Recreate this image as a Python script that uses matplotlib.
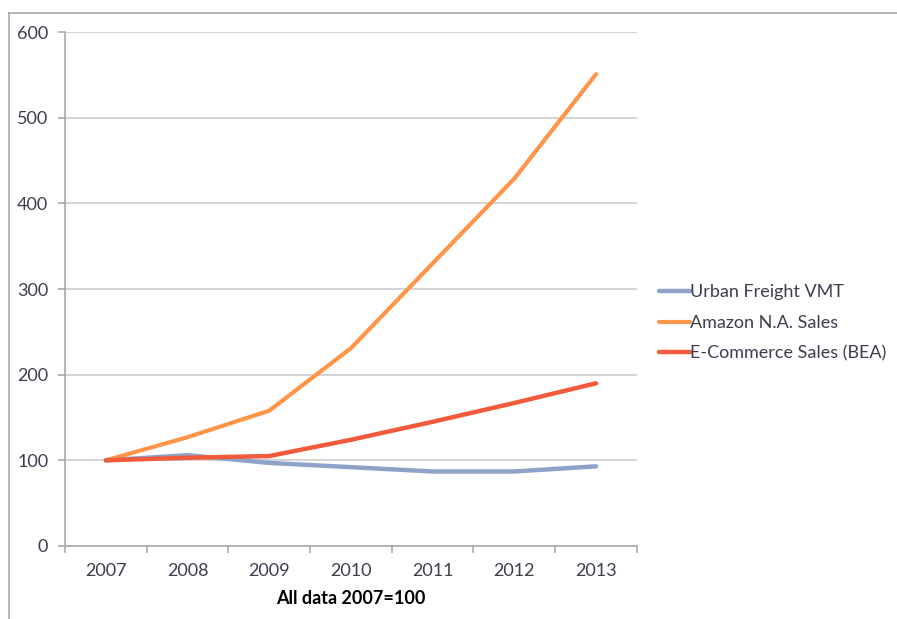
import numpy as np
import matplotlib
matplotlib.use("Agg")
from matplotlib import pyplot as plt
from matplotlib.lines import Line2D

COLORS = ["#8FA3C9", "#FF9548", "#F15A3A", "#3C3E4E", "#A8A8AE", "#D3D3D8"]

plt.rcParams.update({'font.family': ['Lato', 'DejaVu Sans'],
                     'font.size': 13,
                     'text.color': COLORS[3],
                     'xtick.color': COLORS[4],
                     'xtick.labelcolor': COLORS[3],
                     'ytick.color': COLORS[4],
                     'ytick.labelcolor': COLORS[3],
                     })

years = ["2007", "2008", "2009", "2010", "2011", "2012", "2013"]
urban_freight = [100, 106, 97, 92, 87, 87, 93]
amazon_sales = [100, 127, 158, 231, 330, 429, 551]
ecommerce_sales = [100, 103, 105, 124, 145, 167, 190]
y_ticks = [0, 100, 200, 300, 400, 500, 600]

fig = plt.figure(figsize=(8.97, 6.19), dpi=100)
ax = fig.add_axes([0.0725, 0.118, 0.6375, 0.83])

x = np.arange(len(years))
ax.plot(x, urban_freight, color=COLORS[0], lw=3.2, label="Urban Freight VMT", solid_capstyle="round")
ax.plot(x, amazon_sales, color=COLORS[1], lw=3.0, label="Amazon N.A. Sales", solid_capstyle="round")
ax.plot(x, ecommerce_sales, color=COLORS[2], lw=3.2, label="E-Commerce Sales (BEA)", solid_capstyle="round")

ax.set_xlim(-0.5, len(years) - 0.5)
ax.set_ylim(0, 600)
ax.set_yticks(y_ticks)
ax.yaxis.grid(True, color=COLORS[5], lw=1.4)
ax.set_axisbelow(True)

ax.set_xticks(x)
ax.set_xticklabels(years)
ax.set_xticks(np.arange(len(years) + 1) - 0.5, minor=True)
ax.tick_params(axis="x", which="major", length=0, pad=12)
ax.tick_params(axis="x", which="minor", length=5, width=1.2, direction="out")
ax.tick_params(axis="y", length=5, width=1.2, pad=7)

for side in ["top", "right"]:
    ax.spines[side].set_visible(False)
for side in ["left", "bottom"]:
    ax.spines[side].set_color(COLORS[4])
    ax.spines[side].set_linewidth(1.2)

ax.set_xlabel("All data 2007=100", fontweight="bold", labelpad=8)

ax.legend(loc="center left", bbox_to_anchor=(1.01, 0.434), frameon=False,
          handlelength=1.7, handletextpad=0.05, labelspacing=0.8, fontsize=13)

# outer frame lines
fig.add_artist(Line2D([9 / 897, 1], [1 - 13 / 619, 1 - 13 / 619], color=COLORS[4], lw=1.2))
fig.add_artist(Line2D([9 / 897, 9 / 897], [0, 1 - 13 / 619], color=COLORS[4], lw=1.2))

fig.savefig("out.png", dpi=100)
